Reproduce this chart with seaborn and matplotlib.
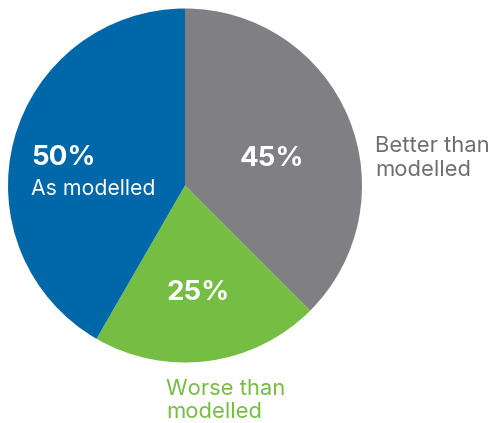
import matplotlib
matplotlib.use("Agg")
import matplotlib.pyplot as plt
import seaborn as sns

categories = ["Better than modelled", "Worse than modelled", "As modelled"]
values = [45, 25, 50]
pct_labels = ["45%", "25%", "50%"]
colors = ["#808084", "#76BE43", "#0068A8"]

sns.set_theme(style="white")
plt.rcParams["font.family"] = ["Inter", "DejaVu Sans"]

W, H = 492, 423
fig = plt.figure(figsize=(W / 100, H / 100), dpi=100)
cx, cy, r = 185, 185.5, 177
ax = fig.add_axes([(cx - r) / W, (H - cy - r) / H, 2 * r / W, 2 * r / H])
ax.pie(values, colors=colors, startangle=90, counterclock=False,
       wedgeprops=dict(linewidth=0))
ax.set_xlim(-1, 1)
ax.set_ylim(-1, 1)
ax.set_aspect("equal")
ax.axis("off")

def d(px, py):
    return (px - cx) / r, (cy - py) / r

big = dict(fontsize=20, fontweight="bold", color="white")
ax.text(*d(272, 159), pct_labels[0], ha="center", va="center", **big)
ax.text(*d(198, 293), pct_labels[1], ha="center", va="center", **big)
ax.text(*d(31, 158), pct_labels[2], ha="left", va="center", **big)
ax.text(*d(31, 195), "As modelled", ha="left", va="baseline", fontsize=15.3, color="white")

grey_t = "#6D6E71"
fs = 15.8
ax.text(*d(375, 152), "Better than", ha="left", va="baseline", fontsize=fs, color=grey_t)
ax.text(*d(375, 176), "modelled", ha="left", va="baseline", fontsize=fs, color=grey_t)
ax.text(*d(166, 395), "Worse than", ha="left", va="baseline", fontsize=fs, color=colors[1])
ax.text(*d(166, 418), "modelled", ha="left", va="baseline", fontsize=fs, color=colors[1])

fig.savefig("out.png", dpi=100, facecolor="white")
